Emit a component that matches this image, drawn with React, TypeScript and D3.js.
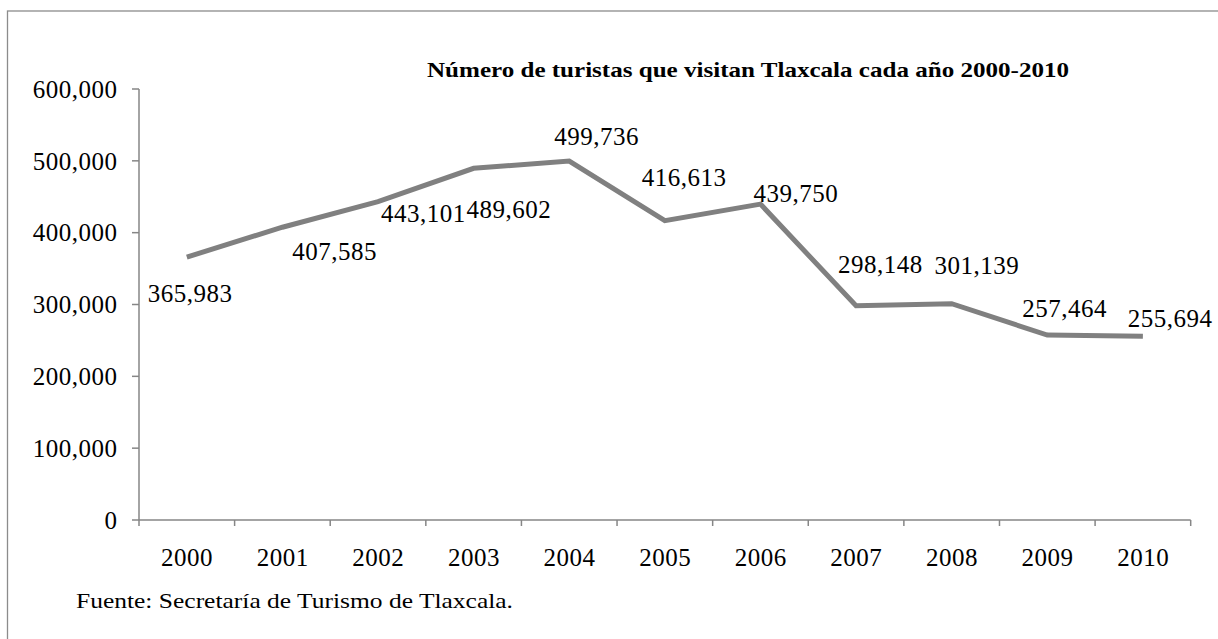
import React from "react";
import * as d3 from "d3";

const years = ["2000","2001","2002","2003","2004","2005","2006","2007","2008","2009","2010"];
const tourists = [365983,407585,443101,489602,499736,416613,439750,298148,301139,257464,255694];
const yTicks = [0,100000,200000,300000,400000,500000,600000];
// label offsets relative to each point [dx, dy(baseline)]
const labelOffsetX = [3,52,45,35,27,19,35,24,25,17,27];
const labelOffsetY = [45,33,20,50,-16,-35,-2,-33,-30,-18,-9];

const W = 1218, H = 639;
const left = 139, right = 1190.7, top = 89, bottom = 520;
const font = "'Liberation Serif', 'Times New Roman', serif";

export default function App() {
  const x = d3.scaleBand().domain(years).range([left, right]).padding(0);
  const y = d3.scaleLinear().domain([0, 600000]).range([bottom, top]);
  const fmt = d3.format(",");
  const cx = (d: string) => (x(d) as number) + x.bandwidth() / 2;
  const line = d3.line<number>().x((_, i) => cx(years[i])).y((d) => y(d));
  const axisColor = "#868686";
  const ls = 0.5;
  const fs = 25;
  return (
    <svg width={W} height={H} style={{ position: "absolute", left: 0, top: 0, background: "#fff" }} fontFamily={font}>
      <rect x={7.5} y={11} width={W + 20} height={H + 20} fill="none" stroke="#8c8c8c" strokeWidth={1.3} />
      <text x={427} y={77} fontWeight="bold" fontSize={22} textLength={642} lengthAdjust="spacingAndGlyphs">
        Número de turistas que visitan Tlaxcala cada año 2000-2010
      </text>
      {/* y axis */}
      <line x1={left} x2={left} y1={y(600000)} y2={bottom} stroke={axisColor} strokeWidth={1.5} />
      {yTicks.map((t) => (
        <g key={t}>
          <line x1={left - 7} x2={left} y1={y(t)} y2={y(t)} stroke={axisColor} strokeWidth={1.5} />
          <text x={117.5} y={y(t)} dy="0.35em" textAnchor="end" fontSize={fs} letterSpacing={ls}>{fmt(t)}</text>
        </g>
      ))}
      {/* x axis */}
      <line x1={left} x2={right} y1={bottom} y2={bottom} stroke={axisColor} strokeWidth={1.5} />
      {[...years.map((d) => x(d) as number), right].map((v, i) => (
        <line key={i} x1={v} x2={v} y1={bottom} y2={bottom + 6} stroke={axisColor} strokeWidth={1.5} />
      ))}
      {years.map((d) => (
        <text key={d} x={cx(d) + 0.3} y={566} textAnchor="middle" fontSize={fs} letterSpacing={ls}>{d}</text>
      ))}
      <path d={line(tourists) || ""} fill="none" stroke="#808080" strokeWidth={5} strokeLinejoin="miter" />
      {tourists.map((v, i) => (
        <text key={i} x={cx(years[i]) + labelOffsetX[i] + 0.3} y={y(v) + labelOffsetY[i]} textAnchor="middle" fontSize={fs} letterSpacing={ls}>
          {fmt(v)}
        </text>
      ))}
      <text x={76} y={608} fontSize={22} textLength={437} lengthAdjust="spacingAndGlyphs">Fuente: Secretaría de Turismo de Tlaxcala.</text>
    </svg>
  );
}
